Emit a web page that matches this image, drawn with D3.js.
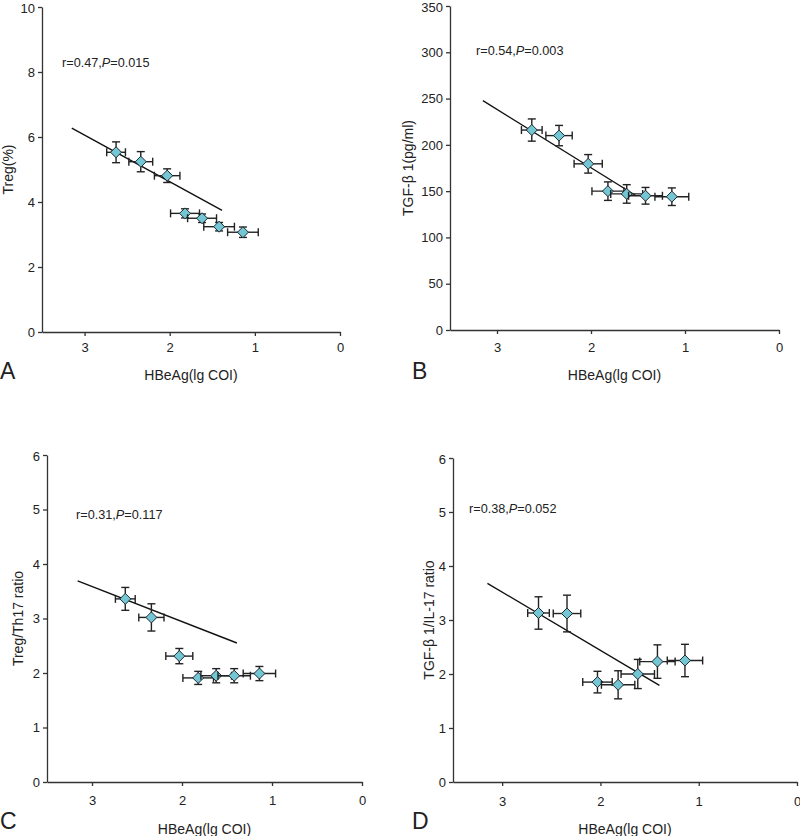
<!DOCTYPE html>
<html>
<head>
<meta charset="utf-8">
<script src="https://cdn.jsdelivr.net/npm/d3@7"></script>
<style>
  body { margin: 0; background: #fff; }
  svg { font-family: "Liberation Sans", Arial, sans-serif; }
  .axis path, .axis line { stroke: #333; stroke-width: 1.3; }
  .axis text { font-size: 13px; fill: #222; }
</style>
</head>
<body>
<div id="d3"></div>
<script>
"use strict";

// shared x values (HBeAg, lg COI) and their errors
var hbeag    = [2.63, 2.34, 2.03, 1.82, 1.62, 1.42, 1.14];
var hbeagErr = [0.11, 0.14, 0.15, 0.17, 0.17, 0.18, 0.18];

// panel A - Treg(%)
var tregVals = [5.53, 5.24, 4.81, 3.65, 3.50, 3.24, 3.07];
var tregErr  = [0.32, 0.31, 0.21, 0.14, 0.13, 0.13, 0.16];
var tregFit  = [[3.15, 6.27], [1.385, 3.745]];

// panel B - TGF-b1 (pg/ml)
var tgfVals = [216, 210, 179.5, 150, 147, 145, 144];
var tgfErr  = [12, 11, 10, 10, 10, 9, 9.5];
var tgfFit  = [[3.15, 247.7], [1.52, 145]];

// panel C - Treg/Th17 ratio
var ratioVals = [3.36, 3.02, 2.31, 1.91, 1.95, 1.95, 1.99];
var ratioErr  = [0.21, 0.25, 0.14, 0.12, 0.13, 0.13, 0.13];
var ratioFit  = [[3.16, 3.69], [1.39, 2.55]];

// panel D - TGF-b1/IL-17 ratio
var tilVals = [3.13, 3.12, 1.85, 1.80, 2.00, 2.23, 2.25];
var tilErr  = [0.30, 0.34, 0.20, 0.26, 0.27, 0.31, 0.30];
var tilFit  = [[3.15, 3.68], [1.40, 1.79]];

var xTicks = [3, 2, 1, 0];

var panels = [
  { letter: "A", ylab: "Treg(%)", stat: "r=0.47,", p: "0.015",
    vals: tregVals, err: tregErr, fit: tregFit, ymax: 10, yticks: [0, 2, 4, 6, 8, 10],
    box: { l: 42, r: 340, t: 7, b: 332 }, ylabX: 9, statX: 62, statY: 67,
    letterX: 0, letterY: 379, xlabY: 380, tickY: 353 },
  { letter: "B", ylab: "TGF-\u03b2 1(pg/ml)", stat: "r=0.54,", p: "0.003",
    vals: tgfVals, err: tgfErr, fit: tgfFit, ymax: 350, yticks: [0, 50, 100, 150, 200, 250, 300, 350],
    box: { l: 450, r: 779, t: 6, b: 330 }, ylabX: 409, statX: 476, statY: 55,
    letterX: 412, letterY: 379, xlabY: 380, tickY: 353 },
  { letter: "C", ylab: "Treg/Th17 ratio", stat: "r=0.31,", p: "0.117",
    vals: ratioVals, err: ratioErr, fit: ratioFit, ymax: 6, yticks: [0, 1, 2, 3, 4, 5, 6],
    box: { l: 47, r: 362, t: 455, b: 782 }, ylabX: 19, statX: 76, statY: 519,
    letterX: 0, letterY: 829, xlabY: 834, tickY: 806 },
  { letter: "D", ylab: "TGF-\u03b2 1/IL-17 ratio", stat: "r=0.38,", p: "0.052",
    vals: tilVals, err: tilErr, fit: tilFit, ymax: 6, yticks: [0, 1, 2, 3, 4, 5, 6],
    box: { l: 453, r: 797, t: 458, b: 782 }, ylabX: 430, statX: 469, statY: 513,
    letterX: 412, letterY: 829, xlabY: 834, tickY: 807 }
];

var svg = d3.select("#d3").append("svg")
  .attr("width", 800)
  .attr("height", 836);

panels.forEach(function(pn) {
  var bx = pn.box;
  var x = d3.scaleLinear().domain([3.5, 0]).range([bx.l, bx.r]);
  var y = d3.scaleLinear().domain([0, pn.ymax]).range([bx.b, bx.t]);
  var g = svg.append("g");

  // axes
  g.append("g").attr("class", "axis")
    .attr("transform", "translate(0," + bx.b + ")")
    .call(d3.axisBottom(x).tickValues(xTicks).tickSize(4).tickSizeOuter(0).tickFormat(d3.format("d")))
    .call(a => a.selectAll("text").attr("y", pn.tickY - bx.b - 10));
  g.append("g").attr("class", "axis")
    .attr("transform", "translate(" + bx.l + ",0)")
    .call(d3.axisLeft(y).tickValues(pn.yticks).tickSize(4).tickSizeOuter(0).tickFormat(d3.format("d")))
    .call(a => a.selectAll("text").attr("dy", function(d) { return d === pn.ymax ? "0.45em" : "0.32em"; }));

  // regression line
  g.append("line")
    .attr("x1", x(pn.fit[0][0])).attr("y1", y(pn.fit[0][1]))
    .attr("x2", x(pn.fit[1][0])).attr("y2", y(pn.fit[1][1]))
    .attr("stroke", "#111").attr("stroke-width", 1.4);

  var pts = hbeag.map(function(hx, i) {
    return { x: hx, xe: hbeagErr[i], y: pn.vals[i], ye: pn.err[i] };
  });

  var cap = 4;
  var eb = g.selectAll(".pt").data(pts).enter().append("g").attr("class", "pt");
  // horizontal error bar
  eb.append("line")
    .attr("x1", d => x(d.x + d.xe)).attr("x2", d => x(d.x - d.xe))
    .attr("y1", d => y(d.y)).attr("y2", d => y(d.y));
  eb.append("line")
    .attr("x1", d => x(d.x + d.xe)).attr("x2", d => x(d.x + d.xe))
    .attr("y1", d => y(d.y) - cap).attr("y2", d => y(d.y) + cap);
  eb.append("line")
    .attr("x1", d => x(d.x - d.xe)).attr("x2", d => x(d.x - d.xe))
    .attr("y1", d => y(d.y) - cap).attr("y2", d => y(d.y) + cap);
  // vertical error bar
  eb.append("line")
    .attr("x1", d => x(d.x)).attr("x2", d => x(d.x))
    .attr("y1", d => y(d.y + d.ye)).attr("y2", d => y(d.y - d.ye));
  eb.append("line")
    .attr("x1", d => x(d.x) - cap).attr("x2", d => x(d.x) + cap)
    .attr("y1", d => y(d.y + d.ye)).attr("y2", d => y(d.y + d.ye));
  eb.append("line")
    .attr("x1", d => x(d.x) - cap).attr("x2", d => x(d.x) + cap)
    .attr("y1", d => y(d.y - d.ye)).attr("y2", d => y(d.y - d.ye));
  eb.selectAll("line").attr("stroke", "#222").attr("stroke-width", 1.4);

  // diamond markers
  eb.append("path")
    .attr("d", "M0,-5.5L5.5,0L0,5.5L-5.5,0Z")
    .attr("transform", d => "translate(" + x(d.x) + "," + y(d.y) + ")")
    .attr("fill", "#74c6d4")
    .attr("stroke", "#1d2a30")
    .attr("stroke-width", 1);

  // stat text
  var st = g.append("text")
    .attr("x", pn.statX).attr("y", pn.statY)
    .attr("font-size", "12.7px").attr("fill", "#222");
  st.append("tspan").text(pn.stat);
  st.append("tspan").attr("font-style", "italic").text("P");
  st.append("tspan").text("=" + pn.p);

  // axis titles
  g.append("text")
    .attr("x", (bx.l + bx.r) / 2 + 0).attr("y", pn.xlabY)
    .attr("text-anchor", "middle")
    .attr("font-size", "14px").attr("fill", "#222")
    .text("HBeAg(lg COI)");
  g.append("text")
    .attr("transform", "translate(" + pn.ylabX + "," + ((bx.t + bx.b) / 2) + ") rotate(-90)")
    .attr("text-anchor", "middle")
    .attr("dominant-baseline", "middle")
    .attr("font-size", "14px").attr("fill", "#222")
    .text(pn.ylab);

  // panel letter
  g.append("text")
    .attr("x", pn.letterX).attr("y", pn.letterY)
    .attr("font-size", "23px").attr("fill", "#222")
    .text(pn.letter);
});
</script>
</body>
</html>
